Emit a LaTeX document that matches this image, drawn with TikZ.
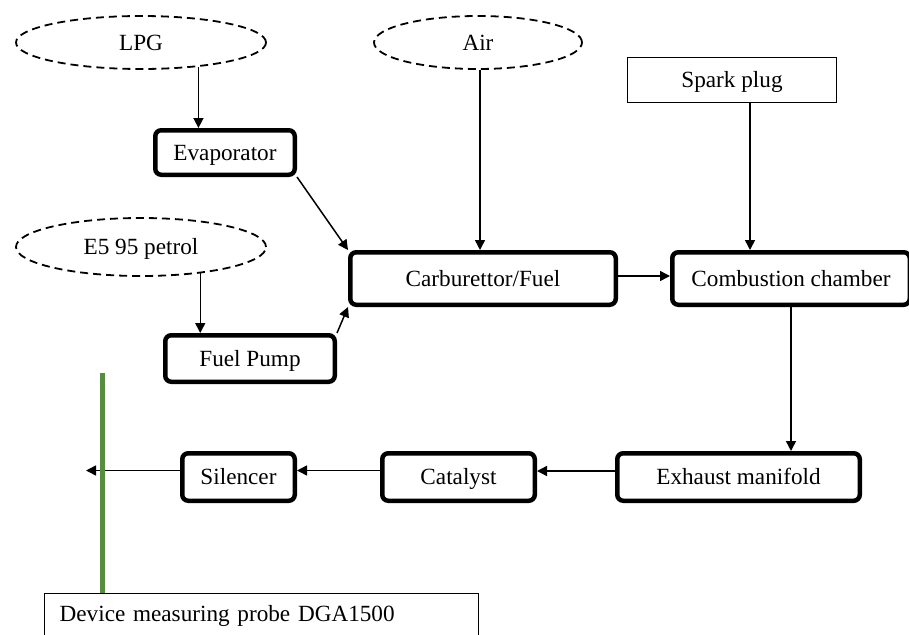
\documentclass[tikz,border=0pt]{standalone}
\usepackage{fontspec}
\setmainfont{Liberation Serif}
\usetikzlibrary{arrows.meta,shapes.geometric}
\definecolor{probegreen}{RGB}{88,140,62}
\begin{document}
\begin{tikzpicture}[x=1pt,y=-1pt,
  font=\fontsize{23.2}{27}\selectfont,
  src/.style={ellipse, draw, dash pattern=on 8pt off 5pt, line width=1.8pt, inner sep=0pt, text height=15pt, text depth=0pt},
  blk/.style={rectangle, rounded corners=6pt, draw, line width=4.5pt, inner sep=0pt, text height=15pt, text depth=0pt},
  plainbox/.style={rectangle, draw, line width=1.3pt, inner sep=0pt},
  arr/.style={-{Triangle[length=10pt,width=10pt]}, line width=1.5pt},
  probe/.style={draw=probegreen, line width=5pt}]
\useasboundingbox (0,0) rectangle (909,634);
\clip (0,0) rectangle (909,634);
\fill[white] (0,0) rectangle (909,634);

% sources
\node[src, minimum width=250pt, minimum height=53pt] (lpg) at (141,42.5) {LPG};
\node[src, minimum width=208pt, minimum height=53pt] (air) at (478,42.5) {Air};
\node[src, minimum width=250pt, minimum height=58pt] (e5) at (141,247) {E5 95 petrol};
\node[plainbox, minimum width=208.7pt, minimum height=44.7pt, text height=15pt, text depth=0pt] (spark) at (732,80) {Spark plug};

% blocks
\node[blk, minimum width=139.5pt, minimum height=44.5pt] (evap) at (225,152.5) {Evaporator};
\node[blk, minimum width=265.5pt, minimum height=52.5pt] (carb) at (483,278.5) {Carburettor/Fuel};
\node[blk, minimum width=237.5pt, minimum height=52.5pt] (comb) at (791,278.5) {Combustion chamber};
\node[blk, minimum width=169.5pt, minimum height=46.5pt] (pump) at (250,358.5) {Fuel Pump};
\node[blk, minimum width=242.5pt, minimum height=47.5pt] (exh) at (738.5,477) {Exhaust manifold};
\node[blk, minimum width=152.5pt, minimum height=47.5pt] (cat) at (458.5,477) {Catalyst};
\node[blk, minimum width=112.5pt, minimum height=47.5pt] (sil) at (238.5,477) {Silencer};

\node[plainbox, anchor=north west, text width=404pt, inner xsep=15pt, inner ysep=4pt,
      text height=24pt, text depth=40pt, align=left] (dev) at (44,593) {Device measuring probe DGA1500};

\coordinate (exit) at (86,470.5);
\coordinate (gtop) at (102,373);

% connectors
\draw[arr] (lpg.-23.3) -- (lpg.-23.3 |- evap.north);
\draw[arr] (e5.-24.6) -- (e5.-24.6 |- pump.north);
\draw[arr] ([xshift=2pt]air.south) -- ([xshift=2pt]air.south |- carb.north);
\draw[arr] ([xshift=18pt]spark.south) -- ([xshift=18pt]spark.south |- comb.north);
\draw[arr] (evap.south east) -- (carb.north west);
\draw[arr] (pump.north east) -- (carb.south west);
\draw[arr] ([yshift=2.5pt]carb.east) -- ([yshift=2.5pt]comb.west);
\draw[arr] (comb.south) -- (comb.south |- exh.north);
\draw[arr] ([yshift=6pt]exh.west) -- ([yshift=6pt]cat.east);
\draw[arr] ([yshift=6.5pt]cat.west) -- ([yshift=6.5pt]sil.east);
\draw[arr] ([yshift=6.5pt]sil.west) -- (exit);

\draw[probe] (gtop) -- (gtop |- dev.north);
\end{tikzpicture}
\end{document}
